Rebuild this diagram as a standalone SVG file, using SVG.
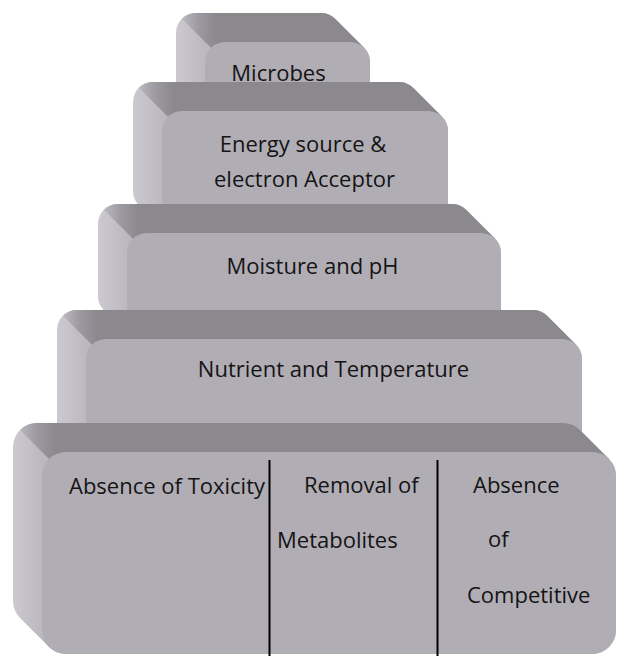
<svg xmlns="http://www.w3.org/2000/svg" width="618" height="656" viewBox="0 0 618 656">
<defs>
<style>
.front{fill:#b1adb5}
.lbl{font-family:"Open Sans","Liberation Sans",sans-serif;font-size:22px;fill:#141414}
.mid{text-anchor:middle}
.div{stroke:#000;stroke-width:2}
</style>
<linearGradient id="g1" gradientUnits="userSpaceOnUse" x1="176" y1="0" x2="205" y2="0"><stop offset="0" stop-color="#ccc9d1"/><stop offset="1" stop-color="#bbb8c0"/></linearGradient>
<linearGradient id="g2" gradientUnits="userSpaceOnUse" x1="133" y1="0" x2="162" y2="0"><stop offset="0" stop-color="#ccc9d1"/><stop offset="1" stop-color="#bbb8c0"/></linearGradient>
<linearGradient id="g3" gradientUnits="userSpaceOnUse" x1="98" y1="0" x2="127" y2="0"><stop offset="0" stop-color="#ccc9d1"/><stop offset="1" stop-color="#bbb8c0"/></linearGradient>
<linearGradient id="g4" gradientUnits="userSpaceOnUse" x1="57" y1="0" x2="86" y2="0"><stop offset="0" stop-color="#ccc9d1"/><stop offset="1" stop-color="#bbb8c0"/></linearGradient>
<linearGradient id="g5" gradientUnits="userSpaceOnUse" x1="13" y1="0" x2="42" y2="0"><stop offset="0" stop-color="#ccc9d1"/><stop offset="1" stop-color="#bbb8c0"/></linearGradient>
<linearGradient id="t1" gradientUnits="userSpaceOnUse" x1="176" y1="0" x2="216" y2="0"><stop offset="0" stop-color="#c6c3cb"/><stop offset="0.55" stop-color="#9d9aa1"/><stop offset="1" stop-color="#8b888e"/></linearGradient>
<linearGradient id="t2" gradientUnits="userSpaceOnUse" x1="133" y1="0" x2="173" y2="0"><stop offset="0" stop-color="#c6c3cb"/><stop offset="0.55" stop-color="#9d9aa1"/><stop offset="1" stop-color="#8b888e"/></linearGradient>
<linearGradient id="t3" gradientUnits="userSpaceOnUse" x1="98" y1="0" x2="138" y2="0"><stop offset="0" stop-color="#c6c3cb"/><stop offset="0.55" stop-color="#9d9aa1"/><stop offset="1" stop-color="#8b888e"/></linearGradient>
<linearGradient id="t4" gradientUnits="userSpaceOnUse" x1="57" y1="0" x2="97" y2="0"><stop offset="0" stop-color="#c6c3cb"/><stop offset="0.55" stop-color="#9d9aa1"/><stop offset="1" stop-color="#8b888e"/></linearGradient>
<linearGradient id="t5" gradientUnits="userSpaceOnUse" x1="13" y1="0" x2="55" y2="0"><stop offset="0" stop-color="#c6c3cb"/><stop offset="0.55" stop-color="#9d9aa1"/><stop offset="1" stop-color="#8b888e"/></linearGradient>
</defs>
<rect width="618" height="656" fill="#ffffff"/>

<g id="microbes">
<path fill="url(#g1)" d="M176 33 A20 20 0 0 1 196 13 H321 A20 20 0 0 1 335.14 18.86 L364.14 47.86 A20 20 0 0 1 370 62 V120 A20 20 0 0 1 350 140 H225 A20 20 0 0 1 210.86 134.14 L181.86 105.14 A20 20 0 0 1 176 91 Z"/>
<path fill="url(#t1)" d="M181.86 18.86 A20 20 0 0 1 196 13 H321 A20 20 0 0 1 335.14 18.86 L364.14 47.86 L210.86 47.86 Z"/>
<rect class="front" x="205" y="42" width="165" height="98" rx="20"/>
<text class="lbl mid" x="278.5" y="81">Microbes</text>
</g>

<g id="energy">
<path fill="url(#g2)" d="M133 102 A20 20 0 0 1 153 82 H399 A20 20 0 0 1 413.14 87.86 L442.14 116.86 A20 20 0 0 1 448 131 V220 A20 20 0 0 1 428 240 H182 A20 20 0 0 1 167.86 234.14 L138.86 205.14 A20 20 0 0 1 133 191 Z"/>
<path fill="url(#t2)" d="M138.86 87.86 A20 20 0 0 1 153 82 H399 A20 20 0 0 1 413.14 87.86 L442.14 116.86 L167.86 116.86 Z"/>
<rect class="front" x="162" y="111" width="286" height="129" rx="20"/>
<text class="lbl mid" x="303" y="152">Energy source &amp;</text>
<text class="lbl mid" x="304.5" y="187">electron Acceptor</text>
</g>

<g id="moisture">
<path fill="url(#g3)" d="M98 224 A20 20 0 0 1 118 204 H452 A20 20 0 0 1 466.14 209.86 L495.14 238.86 A20 20 0 0 1 501 253 V325 A20 20 0 0 1 481 345 H147 A20 20 0 0 1 132.86 339.14 L103.86 310.14 A20 20 0 0 1 98 296 Z"/>
<path fill="url(#t3)" d="M103.86 209.86 A20 20 0 0 1 118 204 H452 A20 20 0 0 1 466.14 209.86 L495.14 238.86 L132.86 238.86 Z"/>
<rect class="front" x="127" y="233" width="374" height="112" rx="20"/>
<text class="lbl mid" x="312.5" y="274">Moisture and pH</text>
</g>

<g id="nutrient">
<path fill="url(#g4)" d="M57 330 A20 20 0 0 1 77 310 H533 A20 20 0 0 1 547.14 315.86 L576.14 344.86 A20 20 0 0 1 582 359 V460 A20 20 0 0 1 562 480 H106 A20 20 0 0 1 91.86 474.14 L62.86 445.14 A20 20 0 0 1 57 431 Z"/>
<path fill="url(#t4)" d="M62.86 315.86 A20 20 0 0 1 77 310 H533 A20 20 0 0 1 547.14 315.86 L576.14 344.86 L91.86 344.86 Z"/>
<rect class="front" x="86" y="339" width="496" height="141" rx="20"/>
<text class="lbl mid" x="333.5" y="377">Nutrient and Temperature</text>
</g>

<g id="base">
<path fill="url(#g5)" d="M13 447 A24 24 0 0 1 37 423 H563 A24 24 0 0 1 579.97 430.03 L608.97 459.03 A24 24 0 0 1 616 476 V630 A24 24 0 0 1 592 654 H66 A24 24 0 0 1 49.03 646.97 L20.03 617.970 A24 24 0 0 1 13 601 Z"/>
<path fill="url(#t5)" d="M20.03 430.03 A24 24 0 0 1 37 423 H563 A24 24 0 0 1 579.97 430.03 L608.97 459.03 L49.03 459.03 Z"/>
<rect class="front" x="42" y="452" width="574" height="202" rx="24"/>
<line class="div" x1="269.5" y1="460" x2="269.5" y2="656"/>
<line class="div" x1="437.5" y1="460" x2="437.5" y2="656"/>
<text class="lbl" x="69" y="494">Absence of Toxicity</text>
<text class="lbl" x="304" y="493">Removal of</text>
<text class="lbl" x="277" y="548">Metabolites</text>
<text class="lbl" x="473" y="493">Absence</text>
<text class="lbl" x="488" y="547">of</text>
<text class="lbl" x="467" y="603">Competitive</text>
</g>
</svg>
